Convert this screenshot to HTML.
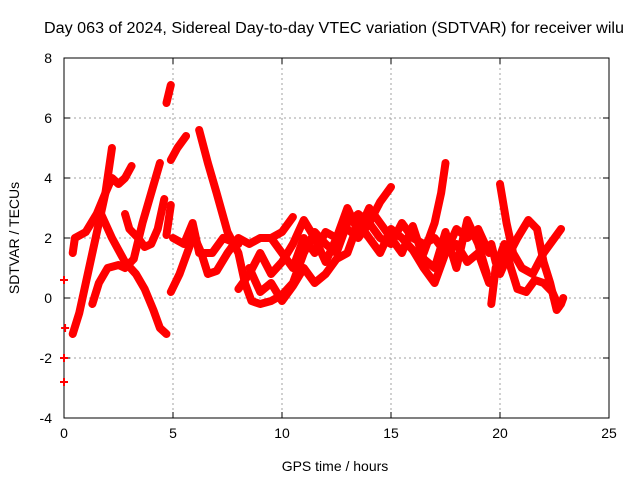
<!DOCTYPE html>
<html><head><meta charset="utf-8"><style>
body{margin:0;background:#fff}
svg{display:block;font-family:"Liberation Sans",sans-serif}
</style></head><body>
<svg id="chart" width="640" height="480" viewBox="0 0 640 480">
<rect width="640" height="480" fill="#fff"/>
<text x="44" y="33" font-size="15.3" text-anchor="start" textLength="580" lengthAdjust="spacingAndGlyphs">Day 063 of 2024, Sidereal Day-to-day VTEC variation (SDTVAR) for receiver wilu</text>
<g id="grid"></g>
<g id="axes"></g>
<g id="series"></g>
<text x="335" y="471" font-size="14" text-anchor="middle">GPS time / hours</text>
<text transform="translate(19,238) rotate(-90)" font-size="14" text-anchor="middle">SDTVAR / TECUs</text>
</svg>
<script>
const xTicks=[0,5,10,15,20,25];
const yTicks=[-4,-2,0,2,4,6,8];
const trackA=[[0.4,-1.2],[0.7,-0.5],[1,0.5],[1.3,1.5],[1.6,2.5],[1.9,3.5],[2.1,4.5],[2.2,5]];
const trackB=[[0.4,1.5],[0.5,2],[1,2.2],[1.5,2.8],[1.9,3.5],[2.2,4],[2.5,3.8],[2.8,4],[3.1,4.4]];
const trackC=[[1.3,-0.2],[1.6,0.5],[2,1],[2.5,1.1],[2.8,1],[3.2,1.3],[3.6,2.5],[4,3.5],[4.4,4.5]];
const trackD=[[1.7,2.8],[2.2,2],[2.8,1.2],[3.3,0.8],[3.7,0.3],[4.1,-0.4],[4.4,-1],[4.7,-1.2]];
const trackE=[[2.8,2.8],[3,2.3],[3.4,2],[3.7,1.7],[4,1.8],[4.3,2.3],[4.6,3.3]];
const trackF=[[4.7,6.5],[4.9,7.1]];
const trackG=[[4.7,2.1],[4.9,3.1]];
const trackH=[[4.9,4.6],[5.2,5],[5.6,5.4]];
const trackI=[[4.9,0.2],[5.3,0.8],[5.8,1.8],[6,2],[6.3,1.5],[6.6,0.8],[7,0.9],[7.5,1.5],[8,2],[8.5,1.8],[9,2],[9.5,2],[10,2.2],[10.5,2.7]];
const trackJ=[[5,2],[5.5,1.8],[5.9,2.5],[6.2,1.5],[6.8,1.5],[7.3,2],[8,1.8]];
const trackK=[[6.2,5.6],[6.6,4.5],[7,3.5],[7.5,2.2],[8,1.5],[8.3,0.5],[8.6,-0.1],[9,-0.2],[9.5,-0.1],[10,0.1],[10.5,0.5],[11,1.5],[11.5,2.2],[12,1.8],[12.5,1.5],[13,2.5],[13.5,2.8],[14,2.5],[14.5,3.2],[15,3.7]];
const trackL=[[8.5,1],[9,0.2],[9.5,0.5],[10,-0.1],[10.5,0.4],[11,1],[11.5,0.5],[12,0.8],[12.5,1.3],[13,1.5],[13.5,2.5],[14,2],[14.5,1.5],[15,2.3],[15.5,2],[16,1.6],[16.5,1],[17,0.5],[17.5,1.5],[18,1.8],[18.5,1.2],[19,1.5],[19.5,0.5]];
const trackM=[[9.5,2],[10,1.5],[10.5,1],[11,2],[11.5,1.5],[12,2.2],[12.5,2],[13,2.3],[13.5,2],[14,2.5],[14.5,2],[15,1.8],[15.5,2.5],[16,2],[16.5,1.8],[17,2],[17.5,1.5],[18,2.3],[18.5,2],[19,2.3],[19.5,1.5]];
const trackN=[[16.5,1.5],[17,2.5],[17.3,3.5],[17.5,4.5]];
const trackO=[[19.6,1.8],[19.8,1.2],[20,0.8],[20.3,1.3],[20.8,2],[21.3,2.6],[21.7,2.3],[22,1.2],[22.3,0.5],[22.6,-0.4],[22.8,-0.2],[22.9,0]];
const trackP=[[20,3.8],[20.3,2.5],[20.6,1.5],[21,1],[21.5,0.8],[22,1.5],[22.5,2],[22.8,2.3]];
const trackQ=[[19.6,-0.2],[19.8,1],[20.2,1.8],[20.5,1],[20.8,0.3],[21.2,0.2],[21.6,0.6],[22,0.5],[22.4,0.2],[22.7,-0.3]];
const trackR=[[8,0.3],[8.5,0.8],[9,1.5],[9.5,0.8],[10,1.2],[10.5,1.8],[11,2.6],[11.5,2],[12,1.2],[12.5,2],[13,3],[13.5,2.2],[14,3],[14.5,2.5],[15,2],[15.5,1.5],[16,2.4],[16.5,1.3],[17,1],[17.5,2.2],[18,1],[18.5,2.6],[19,1.8],[19.4,0.8]];
const isolated=[[0,0.6],[0,-2],[0,-2.8],[0.05,-1]];
const tracks=[trackA,trackB,trackC,trackD,trackE,trackF,trackG,trackH,trackI,trackJ,trackK,trackL,trackM,trackN,trackO,trackP,trackQ,trackR];

const NS="http://www.w3.org/2000/svg";
const X0=64,X1=609,Y0=418,Y1=58;
const xs=h=>X0+(h-0)/(25-0)*(X1-X0);
const ys=v=>Y0-(v+4)/(12)*(Y0-Y1);
function mk(t,a,p){const e=document.createElementNS(NS,t);for(const k in a)e.setAttribute(k,a[k]);p.appendChild(e);return e;}
const grid=document.getElementById('grid'),axes=document.getElementById('axes'),ser=document.getElementById('series');
xTicks.forEach(t=>{
  const x=xs(t);
  if(t>0&&t<25){const g=mk('line',{x1:x,x2:x,y1:Y1,y2:Y0,stroke:'#a0a0a0','stroke-dasharray':'2,3'},grid);
  
  }
  const tl=mk('text',{x:x,y:Y0+20,'font-size':14,'text-anchor':'middle'},axes);tl.textContent=t;
  
  
  mk('line',{x1:x,x2:x,y1:Y0,y2:Y0-6,stroke:'#000'},axes);
  mk('line',{x1:x,x2:x,y1:Y1,y2:Y1+6,stroke:'#000'},axes);
});
yTicks.forEach(t=>{
  const y=ys(t);
  if(t>-4&&t<8){const g=mk('line',{x1:X0,x2:X1,y1:y,y2:y,stroke:'#a0a0a0','stroke-dasharray':'2,3'},grid);
  
  }
  const tl=mk('text',{x:X0-12,y:y+5,'font-size':14,'text-anchor':'end'},axes);tl.textContent=t;
  
  
  mk('line',{x1:X0,x2:X0+6,y1:y,y2:y,stroke:'#000'},axes);
  mk('line',{x1:X1,x2:X1-6,y1:y,y2:y,stroke:'#000'},axes);
});
const frame=mk('rect',{x:X0,y:Y1,width:X1-X0,height:Y0-Y1,fill:'none',stroke:'#000'},axes);


tracks.forEach(tr=>{
  const pl=mk('polyline',{points:tr.map(p=>xs(p[0])+','+ys(p[1])).join(' '),fill:'none',stroke:'#ff0000','stroke-width':8,'stroke-linejoin':'round','stroke-linecap':'round'},ser);
  
  
});
isolated.forEach(p=>{
  const x=xs(p[0]),y=ys(p[1]);
  const m=mk('path',{d:`M${x-4},${y}H${x+4}M${x},${y-4}V${y+4}`,stroke:'#ff0000','stroke-width':2},ser);
  
  
});
</script>
</body></html>
